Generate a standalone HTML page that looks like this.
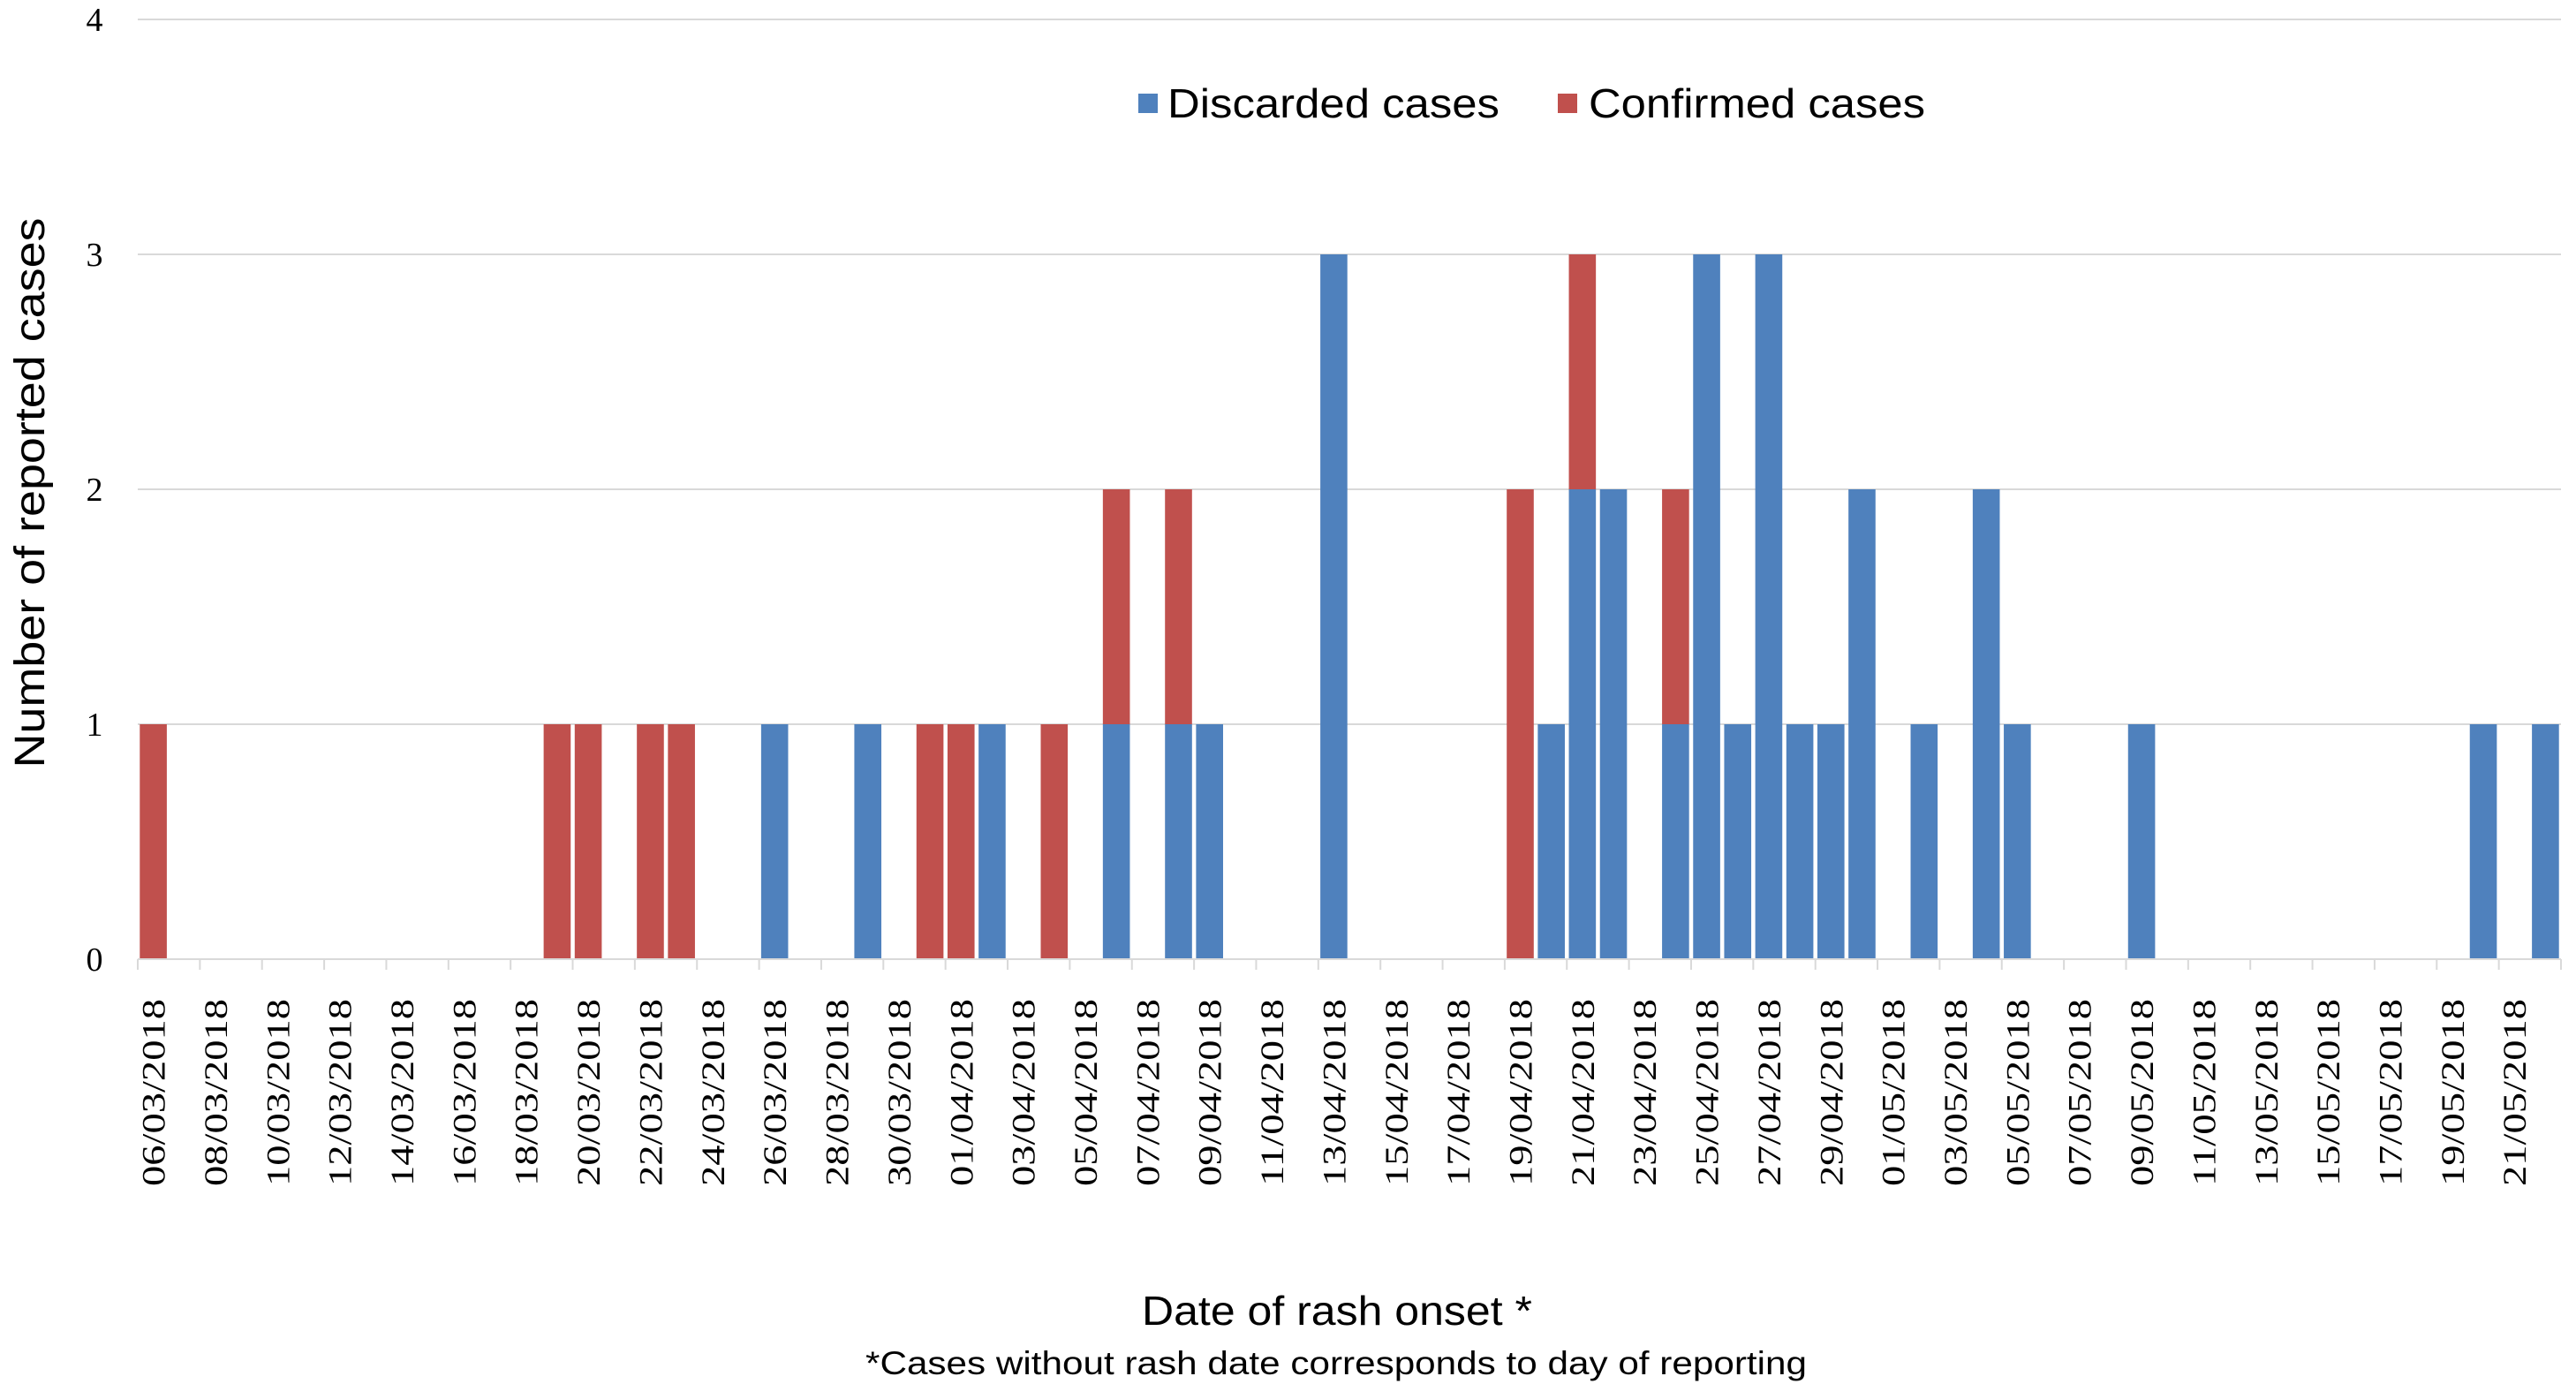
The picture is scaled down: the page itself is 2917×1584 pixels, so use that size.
<!DOCTYPE html>
<html><head><meta charset="utf-8"><style>
html,body{margin:0;padding:0;background:#fff;}
svg{display:block;}
</style></head><body>
<svg id="chart" width="2917" height="1584" viewBox="0 0 2917 1584" xmlns="http://www.w3.org/2000/svg">
<g id="grid"></g>
<g id="bars"></g>
<g id="xaxis"></g>
<g id="yaxis"></g>
<text transform="translate(50,558) rotate(-90)" text-anchor="middle" font-family="Liberation Sans, sans-serif" font-size="48" textLength="623" lengthAdjust="spacingAndGlyphs" fill="#000">Number of reported cases</text>
<g>
<rect x="1289" y="106" width="22" height="22" fill="#4f81bd"/>
<text x="1322" y="133" font-family="Liberation Sans, sans-serif" font-size="46" textLength="376" lengthAdjust="spacingAndGlyphs">Discarded cases</text>
<rect x="1764" y="106" width="22" height="22" fill="#c0504d"/>
<text x="1799" y="133" font-family="Liberation Sans, sans-serif" font-size="46" textLength="381" lengthAdjust="spacingAndGlyphs">Confirmed cases</text>
</g>
<text x="1514" y="1500" text-anchor="middle" font-family="Liberation Sans, sans-serif" font-size="46" textLength="442" lengthAdjust="spacingAndGlyphs">Date of rash onset *</text>
<text x="1513" y="1556" text-anchor="middle" font-family="Liberation Sans, sans-serif" font-size="37" textLength="1066" lengthAdjust="spacingAndGlyphs">*Cases without rash date corresponds to day of reporting</text>
</svg>
<script>
// day index 0 = 06/03/2018, 78 days through 22/05/2018
const startLabel = "06/03/2018";
const numDays = 78;
const discardedDays = [20,23,27,31,33,34,38,45,46,47,49,50,51,52,53,54,55,57,59,60,64,75,77];
const discardedVals = [1,1,1,1,1,1,3,1,2,2,1,3,1,3,1,1,2,1,2,1,1,1,1];
const confirmedDays = [0,13,14,16,17,25,26,29,31,33,44,46,49];
const confirmedVals = [1,1,1,1,1,1,1,1,1,1,2,1,1];
const yTicks = [0,1,2,3,4];

const NS="http://www.w3.org/2000/svg";
const X0=156, X1=2900, Y0=1086, YTOP=22, YMAX=4;
const slot=(X1-X0)/numDays;
function xs(i){return X0+i*slot;}
function ys(v){return Y0-(Y0-YTOP)*v/YMAX;}
function mk(tag,attrs,parent){const e=document.createElementNS(NS,tag);for(const k in attrs)e.setAttribute(k,attrs[k]);parent.appendChild(e);return e;}

const grid=document.getElementById('grid'),bars=document.getElementById('bars'),xa=document.getElementById('xaxis'),ya=document.getElementById('yaxis');
yTicks.forEach(t=>{
  const l=mk('line',{x1:X0,x2:X1,y1:ys(t),y2:ys(t),stroke:'#d9d9d9','stroke-width':2},grid);
  
  
  const tx=mk('text',{x:107,y:ys(t)+13,'text-anchor':'middle','font-family':'Liberation Serif, serif','font-size':38},ya);
  tx.textContent=t;
  
  
});
const base={};
const bw=slot*0.87;
discardedDays.forEach((d,k)=>{
  const v=discardedVals[k];
  const r=mk('rect',{x:xs(d)+(slot-bw)/2,y:ys(v),width:bw,height:ys(0)-ys(v),fill:'#4f81bd'},bars);
  
  
  base[d]=v;
});
confirmedDays.forEach((d,k)=>{
  const b=base[d]||0, v=confirmedVals[k];
  const r=mk('rect',{x:xs(d)+(slot-bw)/2,y:ys(b+v),width:bw,height:ys(b)-ys(b+v),fill:'#c0504d'},bars);
  
  
});
const ax=mk('line',{x1:X0,x2:X1,y1:Y0,y2:Y0,stroke:'#d9d9d9','stroke-width':2},xa);


const p=startLabel.split('/');
const start=new Date(+p[2],+p[1]-1,+p[0]);
function pad(n){return (n<10?'0':'')+n;}
for(let i=0;i<=numDays;i+=2){
  const tk=mk('line',{x1:xs(i),x2:xs(i),y1:Y0,y2:Y0+12,stroke:'#d9d9d9','stroke-width':2},xa);
  
  
  if(i<numDays){
    const dt=new Date(start.getTime());dt.setDate(dt.getDate()+i);
    const lab=pad(dt.getDate())+'/'+pad(dt.getMonth()+1)+'/'+dt.getFullYear();
    const cx=xs(i)+slot/2+13;
    const t=mk('text',{transform:'translate('+cx+',1131) rotate(-90)','text-anchor':'end','font-family':'Liberation Serif, serif','font-size':37,textLength:212,lengthAdjust:'spacingAndGlyphs'},xa);
    t.textContent=lab;
    
    
  }
}
</script>
</body></html>
